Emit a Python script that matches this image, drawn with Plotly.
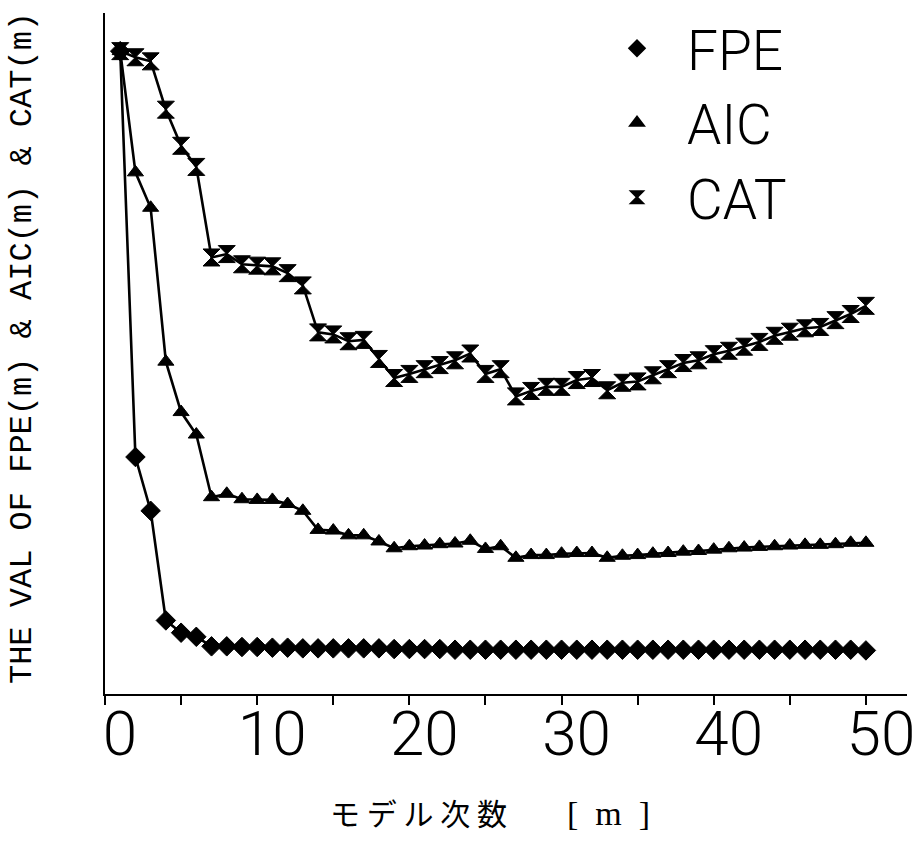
import plotly.graph_objects as go

# model order m
orders = list(range(1, 51))

# criterion values (arbitrary units) for each model order
fpe = [94.7, 35.1, 27.2, 11.1, 9.3, 8.7, 7.3, 7.3, 7.2, 7.2,
       7.1, 7.1, 7.0, 7.0, 7.0, 7.0, 7.0, 7.0, 6.9, 6.9,
       6.9, 6.9, 6.8, 6.8, 6.8, 6.8, 6.8, 6.8, 6.8, 6.8,
       6.8, 6.8, 6.8, 6.8, 6.8, 6.8, 6.8, 6.8, 6.8, 6.8,
       6.8, 6.8, 6.8, 6.8, 6.8, 6.8, 6.8, 6.8, 6.8, 6.7]

aic = [94.7, 76.9, 71.7, 49.1, 41.7, 38.4, 29.2, 29.7, 28.9, 28.8,
       28.8, 28.2, 27.2, 24.4, 24.3, 23.6, 23.6, 22.7, 21.7, 22.0,
       22.1, 22.3, 22.4, 22.8, 21.6, 22.0, 20.3, 20.7, 20.7, 20.9,
       21.0, 21.0, 20.3, 20.6, 20.7, 20.9, 21.0, 21.2, 21.3, 21.5,
       21.7, 21.8, 21.9, 22.0, 22.1, 22.2, 22.2, 22.3, 22.5, 22.5]

cat = [94.7, 93.8, 93.2, 86.1, 80.8, 77.7, 64.4, 64.9, 63.4, 63.2,
       63.1, 62.1, 60.3, 53.4, 53.1, 52.1, 52.3, 49.5, 46.7, 47.3,
       48.0, 48.6, 49.3, 50.3, 47.3, 48.0, 44.0, 44.8, 45.4, 45.4,
       46.4, 46.7, 44.9, 46.0, 46.2, 47.1, 48.0, 48.9, 49.3, 50.2,
       50.7, 51.3, 52.0, 52.9, 53.5, 54.0, 54.2, 55.2, 56.1, 57.3]

series_names = ["FPE", "AIC", "CAT"]
series_values = [fpe, aic, cat]
symbols = ["diamond", "triangle-up", "hourglass"]
sizes = [15, 14, 17]

tick_vals = list(range(0, 51, 5))
tick_text = [str(v) if v % 10 == 0 else "" for v in tick_vals]

plot_font = "Roboto, Liberation Sans, sans-serif"

fig = go.Figure()
# connecting polylines (kept out of the legend)
for vals in series_values:
    fig.add_trace(go.Scatter(
        x=orders, y=vals, mode="lines", showlegend=False, hoverinfo="skip",
        line=dict(color="black", width=2.6),
    ))
# point symbols, which also form the legend entries
for name, vals, sym, sz in zip(series_names, series_values, symbols, sizes):
    fig.add_trace(go.Scatter(
        x=orders, y=vals, name=name, mode="markers",
        marker=dict(symbol=sym, size=sz, color="black",
                    line=dict(color="black", width=1)),
    ))

fig.update_layout(
    width=919, height=850,
    margin=dict(l=105, r=12, t=13, b=156, autoexpand=False),
    paper_bgcolor="white", plot_bgcolor="white",
    showlegend=True,
    legend=dict(
        x=0.601, xanchor="left",
        yref="container", y=0.993, yanchor="top",
        font=dict(family=plot_font, size=55, color="black", weight=300),
        bgcolor="rgba(0,0,0,0)", itemwidth=90, itemsizing="constant",
        tracegroupgap=0,
    ),
    xaxis=dict(
        range=[0, 52.7], showgrid=False, zeroline=False, automargin=False,
        showline=True, linecolor="black", linewidth=2,
        tickmode="array", tickvals=tick_vals, ticktext=tick_text,
        ticks="outside", ticklen=9, tickwidth=2, tickcolor="black",
        ticklabelshift=15, ticklabelstandoff=-24,
        tickfont=dict(family=plot_font, size=62, color="black", weight=300),
    ),
    xaxis2=dict(
        range=[0, 52.7], overlaying="x", anchor="y", side="bottom",
        showgrid=False, zeroline=False, showline=False, automargin=False,
        tickmode="array", tickvals=tick_vals, showticklabels=False,
        ticks="inside", ticklen=8, tickwidth=2, tickcolor="black",
    ),
    yaxis=dict(
        range=[0.3, 100.3], showgrid=False, zeroline=False, automargin=False,
        showline=True, linecolor="black", linewidth=2,
        showticklabels=False, ticks="",
    ),
    annotations=[
        dict(text="THE VAL OF FPE(m) &amp; AIC(m) &amp; CAT(m)",
             textangle=-90, xref="paper", yref="paper",
             x=-0.1035, y=0.508, xanchor="center", yanchor="middle",
             showarrow=False,
             font=dict(family="Liberation Mono, DejaVu Sans Mono, monospace",
                       size=32, color="black")),
        dict(text="モ デ ル 次 数　　<span style='font-family:Liberation Serif;font-size:34px'>[&nbsp; m &nbsp;]</span>",
             xref="paper", yref="paper",
             x=0.48, y=-0.174, xanchor="center", yanchor="middle",
             showarrow=False,
             font=dict(family="Noto Sans CJK JP, sans-serif", size=30, color="black")),
    ],
)

fig.write_html("out.html")
